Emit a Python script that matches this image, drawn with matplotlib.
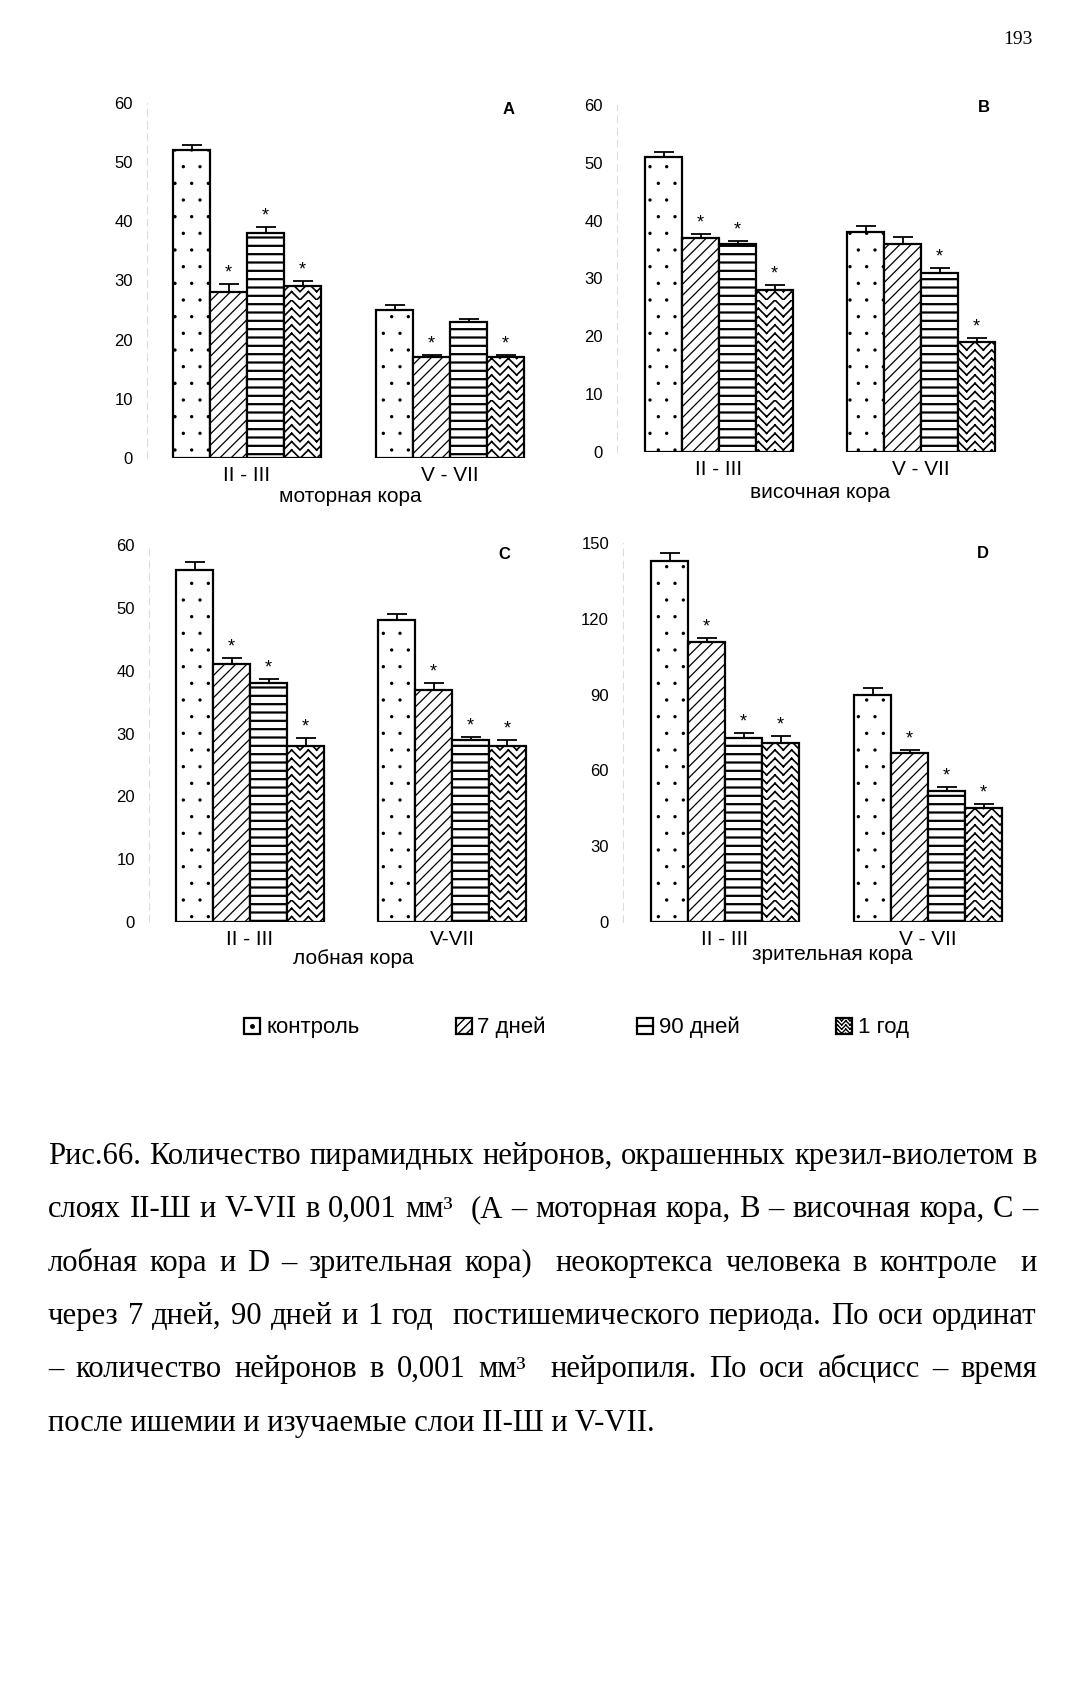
import numpy as np
import matplotlib
matplotlib.use("Agg")
import matplotlib.pyplot as plt
import matplotlib.hatch as mhatch
from matplotlib.path import Path
from matplotlib.patches import Rectangle
from matplotlib.lines import Line2D

# ---------------- data ----------------
groups = ["II - III", "V - VII"]
groups_c = ["II - III", "V-VII"]
series = ["контроль", "7 дней", "90 дней", "1 год"]

A_vals = [[52, 28, 38, 29], [25, 17, 23, 17]]
A_err = [[0.85, 1.35, 1.05, 0.95], [0.9, 0.45, 0.55, 0.45]]
A_sig = [[0, 1, 1, 1], [0, 1, 0, 1]]

B_vals = [[51, 37, 36, 28], [38, 36, 31, 19]]
B_err = [[0.85, 0.75, 0.45, 0.9], [1.1, 1.1, 0.8, 0.75]]
B_sig = [[0, 1, 1, 1], [0, 0, 1, 1]]

C_vals = [[56, 41, 38, 28], [48, 37, 29, 28]]
C_err = [[1.25, 1.05, 0.65, 1.25], [1.0, 1.0, 0.45, 0.9]]
C_sig = [[0, 1, 1, 1], [0, 1, 1, 1]]

D_vals = [[143, 111, 73, 71], [90, 67, 52, 45]]
D_err = [[2.9, 1.5, 1.8, 2.6], [2.6, 1.2, 1.3, 1.7]]
D_sig = [[0, 1, 1, 1], [0, 1, 1, 1]]

regions = ["моторная кора", "височная кора", "лобная кора", "зрительная кора"]
letters = ["A", "B", "C", "D"]

caption_lines = [
    "Рис.66. Количество пирамидных нейронов, окрашенных крезил-виолетом в",
    "слоях II-Ш и V-VII в 0,001 мм³  (А – моторная кора, В – височная кора, С –",
    "лобная кора и D – зрительная кора)  неокортекса человека в контроле  и",
    "через 7 дней, 90 дней и 1 год  постишемического периода. По оси ординат",
    "– количество нейронов в 0,001 мм³  нейропиля. По оси абсцисс – время",
    "после ишемии и изучаемые слои II-Ш и V-VII.",
]
page_number = "193"

# ---------------- custom zigzag hatch (uses '*') ----------------
class ZigZagHatch(mhatch.HatchPatternBase):
    """Stacked zigzag lines, built from separate 2-point segments (no fill area)."""
    def __init__(self, hatch, density):
        self.n = int(hatch.count('*') * density)
        self.nseg = 2 * self.n
        self.num_vertices = self.n * 2 * self.nseg * 2 if self.n else 0

    def set_vertices_and_codes(self, vertices, codes):
        n = self.n
        xs = np.linspace(0, 1, self.nseg + 1)
        k = 0
        for i in range(n):
            for off in (0.0, 0.5):
                ys = (i + off + 0.5 * (np.arange(self.nseg + 1) % 2)) / n
                for j in range(self.nseg):
                    vertices[k] = (xs[j], ys[j])
                    vertices[k + 1] = (xs[j + 1], ys[j + 1])
                    codes[k] = Path.MOVETO
                    codes[k + 1] = Path.LINETO
                    k += 2

mhatch._hatch_types = [t for t in mhatch._hatch_types
                       if not (isinstance(t, type) and issubclass(t, mhatch.Shapes)
                               and t is not mhatch.SmallFilledCircles
                               and t is not mhatch.SmallCircles
                               and t is not mhatch.LargeCircles)] + [ZigZagHatch]

plt.rcParams['font.family'] = ['Liberation Sans', 'DejaVu Sans']

W, H = 1087, 1705
fig = plt.figure(figsize=(W / 100, H / 100), dpi=100)
fig.patch.set_facecolor('white')

hatches = ['.', '///', '--', '*']
hatch_lw = [0.0, 0.9, 1.6, 1.2]


def fx(x):
    return x / W


def fy(y):
    return 1 - y / H


def panel(vals, errs, sig, L, c0, c1, zero, top, ymax, ystep, labels):
    d = c1 - c0
    R = c1 + 100
    ax = fig.add_axes([fx(L), fy(zero), (R - L) / W, (zero - top) / H])
    ax.set_xlim((L - c0) / d, (R - c0) / d)
    ax.set_ylim(0, ymax)
    bw = 37 / d
    for s in range(4):
        xs = [g + (s - 1.5) * bw for g in range(2)]
        v = [vals[g][s] for g in range(2)]
        e = [errs[g][s] for g in range(2)]
        with plt.rc_context({'hatch.linewidth': hatch_lw[s]}):
            ax.bar(xs, v, width=bw, color='white', edgecolor='black', linewidth=1.6,
                   hatch=hatches[s], zorder=2,
                   yerr=[[0, 0], e], capsize=7,
                   error_kw=dict(elinewidth=1.3, capthick=1.3, ecolor='black', zorder=1))
        for g in range(2):
            if sig[g][s]:
                ax.annotate('*', (xs[g], v[g] + e[g]), xytext=(0, 8),
                            textcoords='offset points', ha='center', va='center',
                            fontsize=13)
    ax.set_yticks(np.arange(0, ymax + 1, ystep))
    ax.tick_params(axis='y', length=0, pad=10, labelsize=12)
    ax.set_xticks([0, 1])
    ax.set_xticklabels(labels)
    ax.tick_params(axis='x', length=0, pad=6, labelsize=15)
    for sp in ['top', 'right', 'bottom']:
        ax.spines[sp].set_visible(False)
    ax.spines['left'].set_color('#dcdcdc')
    ax.spines['left'].set_linewidth(0.8)
    ax.spines['left'].set_linestyle((0, (6, 5)))
    ax.set_facecolor('none')
    return ax


panel(A_vals, A_err, A_sig, 147, 247, 450, 458, 103, 60, 10, groups)
panel(B_vals, B_err, B_sig, 617, 719, 921, 452, 105, 60, 10, groups)
panel(C_vals, C_err, C_sig, 149, 250, 452, 922, 545, 60, 10, groups_c)
panel(D_vals, D_err, D_sig, 623, 725, 928, 922, 543, 150, 30, groups)

# region names and panel letters
reg_pos = [(350, 497), (820, 492), (353, 959), (832, 954)]
let_pos = [(509, 109), (984, 108), (504, 555), (983, 553)]
for name, (x, y) in zip(regions, reg_pos):
    fig.text(fx(x), fy(y), name, ha='center', va='center', fontsize=15)
for l, (x, y) in zip(letters, let_pos):
    fig.text(fx(x), fy(y), l, ha='center', va='center', fontsize=12, fontweight='bold')

# legend
leg_box_x = [244, 456, 637, 836]
leg_text_x = [266, 477, 659, 858]
leg_y = 1026
bs = 16
for i in range(4):
    x0 = leg_box_x[i]
    h = ['', '////', '', '**'][i]
    with plt.rc_context({'hatch.linewidth': 1.0}):
        r = Rectangle((fx(x0), fy(leg_y + bs / 2)), bs / W, bs / H, transform=fig.transFigure,
                      facecolor='white', edgecolor='black', linewidth=1.6, hatch=h)
    fig.add_artist(r)
    if i == 0:
        fig.add_artist(Line2D([fx(x0 + bs / 2)], [fy(leg_y)], marker='o', markersize=2.5,
                              color='black', transform=fig.transFigure))
    if i == 2:
        fig.add_artist(Line2D([fx(x0), fx(x0 + bs)], [fy(leg_y), fy(leg_y)], color='black',
                              linewidth=1.6, transform=fig.transFigure))
    fig.text(fx(leg_text_x[i]), fy(leg_y + 1), series[i], ha='left', va='center', fontsize=16)

# page number
fig.text(fx(1018), fy(39), page_number, ha='center', va='center', fontsize=14,
         family='Liberation Serif')

# caption (justified)
renderer = fig.canvas.get_renderer()
serif = 'Liberation Serif'
probe = fig.text(0, 0, caption_lines[-1], fontsize=20, family=serif)
pw = probe.get_window_extent(renderer).width
probe.remove()
cfs = 20 * 609 / pw

cap_left, cap_right = 48, 1037
baselines = [1164, 1217, 1271, 1324, 1377, 1431]
for li, line in enumerate(caption_lines):
    y = fy(baselines[li])
    if li == len(caption_lines) - 1:
        fig.text(fx(cap_left), y, line, ha='left', va='baseline', fontsize=cfs, family=serif)
        continue
    words = line.split(' ')
    texts = [fig.text(0, y, w, ha='left', va='baseline', fontsize=cfs, family=serif) for w in words]
    widths = [t.get_window_extent(renderer).width if w else 0.0 for t, w in zip(texts, words)]
    gap = (cap_right - cap_left - sum(widths)) / (len(words) - 1)
    x = cap_left
    for t, wd in zip(texts, widths):
        t.set_x(fx(x))
        x += wd + gap

fig.savefig('out.png', dpi=100, facecolor='white')
